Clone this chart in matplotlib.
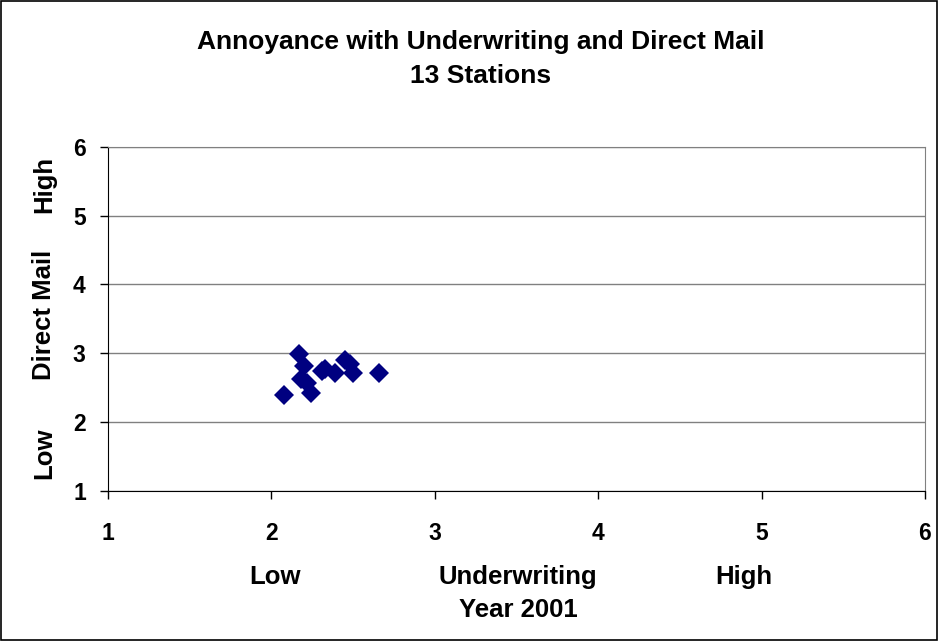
import matplotlib.pyplot as plt
from matplotlib.patches import Rectangle

plt.rcParams['font.family'] = ['Liberation Sans', 'DejaVu Sans']
plt.rcParams['font.weight'] = 'bold'

# station scores (underwriting, direct mail)
underwriting = [2.17, 2.08, 2.24, 2.20, 2.18, 2.22, 2.33, 2.39, 2.45, 2.48, 2.50, 2.66, 2.31]
direct_mail = [2.99, 2.39, 2.42, 2.81, 2.62, 2.57, 2.77, 2.71, 2.91, 2.84, 2.72, 2.72, 2.75]

ticks = [1, 2, 3, 4, 5, 6]

fig = plt.figure(figsize=(9.39, 6.41), dpi=100)
ax = fig.add_axes([0.115, 0.234, 0.870, 0.537])

ax.plot(underwriting, direct_mail, 'D', color='#000080', markersize=10, markeredgewidth=0)

ax.set_xlim(1, 6)
ax.set_ylim(1, 6)
ax.set_xticks(ticks)
ax.set_yticks(ticks)
ax.tick_params(labelsize=16.5, length=6, width=1, color='black')
ax.tick_params(axis='x', pad=16)
ax.tick_params(axis='y', pad=10)
ax.yaxis.grid(True, color='#808080', linewidth=1)
ax.set_axisbelow(True)

ax.spines['left'].set_color('black')
ax.spines['bottom'].set_color('black')
ax.spines['top'].set_color('#808080')
ax.spines['right'].set_color('#808080')

# title
fig.text(0.512, 0.935, 'Annoyance with Underwriting and Direct Mail',
         ha='center', va='center', fontsize=19, fontweight='bold')
fig.text(0.512, 0.882, '13 Stations',
         ha='center', va='center', fontsize=19, fontweight='bold')

# x axis labels
lab = dict(fontsize=18.5, fontweight='bold', ha='center', va='center')
xtr = ax.get_xaxis_transform()
ax.text(2.02, -0.25, 'Low', transform=xtr, **lab)
ax.text(3.51, -0.25, 'Underwriting', transform=xtr, **lab)
ax.text(4.89, -0.25, 'High', transform=xtr, **lab)
ax.text(3.51, -0.345, 'Year 2001', transform=xtr, **lab)

# y axis labels
ytr = ax.get_yaxis_transform()
ax.text(-0.078, 1.55, 'Low', transform=ytr, rotation=90, **lab)
ax.text(-0.078, 3.56, 'Direct Mail', transform=ytr, rotation=90, **lab)
ax.text(-0.078, 5.46, 'High', transform=ytr, rotation=90, **lab)

# outer border
fig.patches.append(Rectangle((0.001, 0.002), 0.997, 0.996, transform=fig.transFigure,
                             fill=False, edgecolor='black', linewidth=1.2))

fig.savefig('out.png', dpi=100)
